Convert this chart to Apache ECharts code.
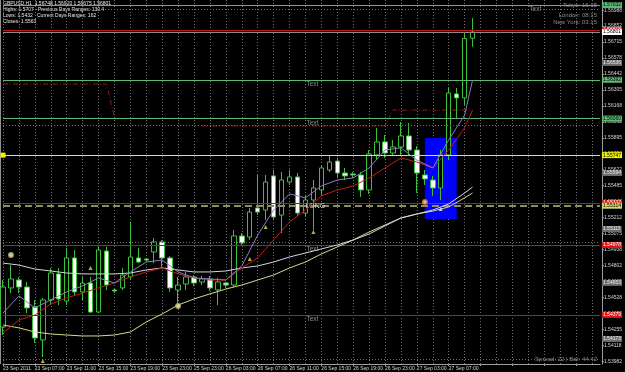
<!DOCTYPE html>
<html><head><meta charset="utf-8">
<script src="https://cdn.jsdelivr.net/npm/echarts@6/dist/echarts.min.js"></script>
<style>html,body{margin:0;padding:0;background:#000;}#c{width:625px;height:372px;}</style>
</head><body><div id="c"></div>
<script>
// ---- data ----
const tickLabels = ["23 Sep 2011","23 Sep 07:00","23 Sep 11:00","23 Sep 15:00","23 Sep 19:00","23 Sep 23:00","25 Sep 23:00","26 Sep 03:00","26 Sep 07:00","26 Sep 11:00","26 Sep 15:00","26 Sep 19:00","26 Sep 23:00","27 Sep 03:00","27 Sep 07:00"];
const futureSlots = 16;
// [open, close, low, high]
const candles = [
[1.54276,1.54618,1.54207,1.54678],[1.54610,1.54687,1.54567,1.54806],[1.54678,1.54618,1.54567,1.54704],[1.54618,1.54439,1.54395,1.54661],
[1.54447,1.54182,1.54139,1.54507],[1.54165,1.54507,1.54019,1.54525],[1.54507,1.54738,1.54464,1.54781],[1.54730,1.54516,1.54464,1.54781],
[1.54498,1.54867,1.54464,1.54953],[1.54867,1.54576,1.54550,1.54935],[1.54576,1.54652,1.54507,1.54704],[1.54652,1.54404,1.54395,1.54704],
[1.54404,1.54935,1.54395,1.54961],[1.54926,1.54635,1.54593,1.54961],[1.54593,1.54584,1.54567,1.54601],[1.54610,1.54721,1.54593,1.54781],
[1.54704,1.54875,1.54678,1.55175],[1.54867,1.54832,1.54823,1.54953],[1.54858,1.54849,1.54832,1.54867],[1.54918,1.55004,1.54823,1.55038],
[1.55004,1.54867,1.54789,1.55021],[1.54867,1.54610,1.54576,1.54884],[1.54593,1.54635,1.54481,1.54704],[1.54644,1.54704,1.54593,1.54747],
[1.54704,1.54652,1.54627,1.54721],[1.54661,1.54687,1.54635,1.54713],[1.54687,1.54610,1.54584,1.54713],[1.54593,1.54661,1.54464,1.54696],
[1.54652,1.54635,1.54610,1.54661],[1.54635,1.55055,1.54618,1.55106],[1.55055,1.54995,1.54970,1.55080],[1.55046,1.55260,1.55021,1.55295],
[1.55295,1.55260,1.55234,1.55577],[1.55277,1.55517,1.55192,1.55577],[1.55569,1.55217,1.55192,1.55620],[1.55234,1.55534,1.55080,1.55603],
[1.55517,1.55560,1.55491,1.55620],[1.55560,1.55251,1.55226,1.55594],[1.55251,1.55363,1.55226,1.55398],[1.55363,1.55466,1.55106,1.55534],
[1.55449,1.55637,1.55398,1.55662],[1.55620,1.55688,1.55603,1.55748],[1.55696,1.55594,1.55552,1.55723],[1.55594,1.55569,1.55534,1.55637],
[1.55586,1.55577,1.55552,1.55603],[1.55577,1.55449,1.55389,1.55603],[1.55449,1.55757,1.55415,1.55791],[1.55748,1.55860,1.55705,1.55980],
[1.55860,1.55765,1.55723,1.55919],[1.55765,1.55817,1.55740,1.55877],[1.55817,1.55911,1.55748,1.56031],[1.55911,1.55791,1.55740,1.56022],
[1.55791,1.55594,1.55423,1.55826],[1.55577,1.55543,1.55491,1.55620],[1.55534,1.55466,1.55398,1.55569],[1.55466,1.55748,1.55363,1.55791],
[1.55748,1.56279,1.55705,1.56322],[1.56271,1.56237,1.56065,1.56322],[1.56237,1.56745,1.56176,1.56790],[1.56748,1.56801,1.56675,1.56920]
];
// moving averages as [bar, price]
const maFast = [[0,1.54395],[2,1.54542],[4,1.54439],[6,1.54507],[8,1.54576],[10,1.54627],[12,1.54696],[14,1.54652],[16,1.54747],[18,1.54832],[20,1.54849],[22,1.54747],[24,1.54696],[26,1.54687],[28,1.54678],[30,1.54798],[32,1.55063],[34,1.55277],[36,1.55415],[38,1.55381],[40,1.55483],[42,1.55534],[44,1.55552],[46,1.55637],[48,1.55791],[50,1.55809],[52,1.55705],[54,1.55637],[56,1.55877],[58,1.56090],[59,1.56390]];
const maRed = [[0,1.54224],[2,1.54336],[4,1.54378],[6,1.54473],[8,1.54525],[10,1.54567],[12,1.54610],[14,1.54652],[16,1.54704],[18,1.54747],[20,1.54781],[22,1.54730],[24,1.54696],[26,1.54678],[28,1.54678],[30,1.54781],[32,1.54867],[34,1.55021],[36,1.55175],[38,1.55277],[40,1.55398],[42,1.55449],[44,1.55483],[46,1.55552],[48,1.55637],[50,1.55723],[52,1.55688],[54,1.55637],[56,1.55791],[58,1.55980],[59,1.56133]];
const maWhite = [[0,1.54823],[2,1.54806],[4,1.54772],[6,1.54755],[8,1.54738],[10,1.54730],[12,1.54730],[14,1.54730],[16,1.54738],[18,1.54764],[20,1.54781],[22,1.54764],[24,1.54747],[26,1.54747],[28,1.54755],[30,1.54781],[32,1.54798],[34,1.54832],[36,1.54875],[38,1.54909],[40,1.54944],[42,1.54978],[44,1.55021],[46,1.55072],[48,1.55141],[50,1.55209],[52,1.55243],[54,1.55277],[56,1.55329],[58,1.55423],[59,1.55474]];
const maYellow = [[0,1.54293],[2,1.54268],[4,1.54233],[6,1.54216],[8,1.54207],[10,1.54199],[12,1.54199],[14,1.54207],[16,1.54233],[18,1.54319],[20,1.54387],[22,1.54464],[24,1.54516],[26,1.54559],[28,1.54601],[30,1.54635],[32,1.54678],[34,1.54721],[36,1.54781],[38,1.54832],[40,1.54901],[42,1.54961],[44,1.55021],[46,1.55089],[48,1.55149],[50,1.55209],[52,1.55243],[54,1.55268],[56,1.55303],[58,1.55381],[59,1.55423]];
const prevDayLine = [[0,1.56356],[13,1.56356],[14,1.56073],[20,null],[25,1.55997],[48,1.55997],[49,1.56133],[59,1.56133]];
const priceTicks = [1.56988,1.56852,1.56715,1.56578,1.56442,1.56305,1.56168,1.56032,1.55895,1.55758,1.55622,1.55485,1.55348,1.55212,1.55075,1.54938,1.54802,1.54665,1.54528,1.54392,1.54255,1.54118,1.53982];
const greenLevels = [1.57032, 1.56392, 1.56060];
const redLevels = [1.56818, 1.55337, 1.54978, 1.54379];
const yellowLevel = 1.55747;
const longLevel = 1.55314;
const bidPrice = 1.56801;
const grayLevels = [1.56536, 1.55594, 1.55115, 1.54653, 1.54173];
const boxBars = [53, 57];
const boxPrices = [1.55894, 1.55201];
const textNotes = [[66,1.57032,'Text'],[38,1.56392,'Text'],[38,1.56060,'Text'],[38,1.54978,'Text'],[38,1.54379,'Text']];
const longNote = [38, 1.55314, 'LONG'];
const ringMarks = [[1,1.54892],[22,1.54456]];
const orangeMarks = [[53,1.55346]];
const yellowArrows = [[5,1.53984],[11,1.54781],[31,1.54858],[33,1.55132],[39,1.55089]];
const whiteArrows = [[55,1.55286]];
const headerLines = ["Highs: 1.5707","Previous Days Ranges: 130.4","Lows: 1.5432","Current Days Ranges: 162","Closes: 1.5563"];
const sessions = ["Tokyo: 16:15","London: 08:15","New York: 03:15"];
const statusText = "Spread: 22 | Bar: 44:42";

// ---- chart ----
const FONT = '"Liberation Sans", Arial, sans-serif';
const N = candles.length + futureSlots;
const cats = Array.from({length: N}, (_, i) => String(i));
const last = candles[candles.length - 1];
const fmt5 = v => Number(v).toFixed(5);

const lvl = (v, line, box, txt, extra) => Object.assign({
  yAxis: v,
  lineStyle: {color: line, width: 1, type: 'solid'},
  label: {backgroundColor: box, color: txt}
}, extra || {});

const levelData = [
  ...grayLevels.map(v => lvl(v, 'rgba(0,0,0,0)', '#6c6c6c', '#e8e8e8')),
  ...greenLevels.map(v => lvl(v, '#5cb870', '#5cb870', '#000')),
  ...redLevels.map(v => lvl(v, '#c01818', '#e01414', '#fff')),
  lvl(bidPrice, '#8a8a8a', '#ffffff', '#000'),
  lvl(yellowLevel, '#f2f200', '#f2f200', '#000', {symbol: ['rect', 'none'], symbolSize: [5, 5]}),
  Object.assign(lvl(longLevel, '#8e8e5a', '#d6d66a', '#000'), {lineStyle: {color: '#8e8e5a', width: 2, type: [7, 4]}})
];

const noteStyle = {show: true, position: 'insideTopLeft', distance: 1, color: '#8c8c8c', fontSize: 6.5, fontFamily: FONT};

const option = {
  animation: false,
  backgroundColor: '#000',
  grid: {left: 2, right: 22, top: 0, bottom: 8},
  xAxis: {
    type: 'category', data: cats, boundaryGap: false,
    axisLine: {show: true, lineStyle: {color: '#a0a0a0'}},
    axisTick: {show: true, interval: 3, length: 2, lineStyle: {color: '#a0a0a0'}},
    axisLabel: {interval: 3, align: 'left', margin: 2, color: '#d4d4d4', fontSize: 5, fontFamily: FONT,
      formatter: (v, i) => (i % 4 === 0 && tickLabels[i / 4]) ? tickLabels[i / 4] : ''},
    splitLine: {show: true, interval: 1, lineStyle: {color: '#707070', type: [1, 2], width: 1}}
  },
  yAxis: {
    type: 'value', position: 'right', min: 1.53959, max: 1.57075, offset: 2, scale: true,
    axisLine: {show: true, lineStyle: {color: '#a0a0a0'}},
    axisTick: {show: true, customValues: priceTicks, length: 2, lineStyle: {color: '#a0a0a0'}},
    axisLabel: {customValues: priceTicks, formatter: fmt5, color: '#d4d4d4', fontSize: 5, margin: 2, fontFamily: FONT},
    splitLine: {show: false}
  },
  graphic: [
    {type: 'line', shape: {x1: 0.5, y1: 0, x2: 0.5, y2: 364}, style: {stroke: '#909090', lineWidth: 1}},
    {type: 'text', left: 3, top: 1, style: {text: 'GBPUSD,H1  ' + [last[0], last[3], last[2], last[1]].map(fmt5).join(' '), fill: '#e8e8e8', font: '5px ' + FONT}},
    {type: 'text', left: 3, top: 7, style: {text: headerLines[0], fill: '#e8e8e8', font: '5px ' + FONT}},
    {type: 'text', left: 38, top: 7, style: {text: headerLines[1], fill: '#e8e8e8', font: '5px ' + FONT}},
    {type: 'text', left: 3, top: 13, style: {text: headerLines[2], fill: '#e8e8e8', font: '5px ' + FONT}},
    {type: 'text', left: 37, top: 13, style: {text: headerLines[3], fill: '#e8e8e8', font: '5px ' + FONT}},
    {type: 'text', left: 3, top: 19, style: {text: headerLines[4], fill: '#e8e8e8', font: '5px ' + FONT}},
    {type: 'text', right: 28, top: 2, style: {text: sessions[0], fill: '#8e8e8e', font: '6px ' + FONT}},
    {type: 'text', right: 28, top: 12, style: {text: sessions[1], fill: '#8e8e8e', font: '6px ' + FONT}},
    {type: 'text', right: 28, top: 19, style: {text: sessions[2], fill: '#8e8e8e', font: '6px ' + FONT}},
    {type: 'text', right: 28, top: 356, style: {text: statusText, fill: '#8e8e8e', font: '6px ' + FONT}}
  ],
  series: [
    {type: 'line', z: 1, data: [], silent: true,
      markLine: {silent: true, symbol: 'none', animation: false, label: {show: false},
        lineStyle: {color: '#707070', type: [1, 2], width: 1},
        data: priceTicks.map(v => ({yAxis: v}))}},
    {type: 'line', z: 2, data: [], silent: true,
      markArea: {silent: true, itemStyle: {color: '#0000ff', opacity: 1},
        data: [[{xAxis: String(boxBars[0]), yAxis: boxPrices[0]}, {xAxis: String(boxBars[1]), yAxis: boxPrices[1]}]]}},
    {type: 'line', z: 3, data: prevDayLine, showSymbol: false, connectNulls: false,
      lineStyle: {color: '#8e1c1c', width: 1, type: [5, 2, 1, 2]}},
    {type: 'candlestick', z: 4, data: candles, barWidth: 5,
      itemStyle: {color: '#000000', color0: '#ffffff', borderColor: '#3cc03c', borderColor0: '#3cc03c', borderWidth: 1}},
    {type: 'line', z: 5, data: maYellow, showSymbol: false, lineStyle: {color: '#d8d890', width: 1}},
    {type: 'line', z: 5, data: maWhite, showSymbol: false, lineStyle: {color: '#d4d4e0', width: 1}},
    {type: 'line', z: 5, data: maRed, showSymbol: false, lineStyle: {color: '#c41a1a', width: 1}},
    {type: 'line', z: 5, data: maFast, showSymbol: false, lineStyle: {color: '#8a7cc8', width: 1}},
    {type: 'line', z: 6, data: [], silent: true,
      markLine: {silent: true, symbol: 'none', precision: 5, animation: false,
        label: {show: true, position: 'end', distance: 2, formatter: p => fmt5(p.value), fontSize: 5, fontFamily: FONT, padding: [1, 1, 0, 1]},
        data: levelData},
      markPoint: {silent: true, symbol: 'circle', symbolSize: 0, animation: false,
        data: textNotes.map(t => ({coord: [String(t[0]), t[1]], value: t[2], label: Object.assign({}, noteStyle, {formatter: t[2]})}))
          .concat([{coord: [String(longNote[0]), longNote[1]], value: longNote[2],
            label: {show: true, position: 'insideLeft', distance: 0, color: '#d8d8d8', fontSize: 7, fontFamily: FONT, formatter: longNote[2]}}])}},
    {type: 'scatter', z: 7, data: ringMarks, symbol: 'emptyCircle', symbolSize: 4, itemStyle: {color: '#c8c070', borderWidth: 1}},
    {type: 'scatter', z: 7, data: orangeMarks, symbol: 'emptyCircle', symbolSize: 4, itemStyle: {color: '#e08a20', borderWidth: 1}},
    {type: 'scatter', z: 7, data: yellowArrows, symbol: 'triangle', symbolSize: 4, itemStyle: {color: '#e6d84a'}},
    {type: 'scatter', z: 7, data: whiteArrows, symbol: 'triangle', symbolSize: 4, itemStyle: {color: '#f0f0f0'}}
  ]
};
const chart = echarts.init(document.getElementById('c'), null, {renderer: 'canvas'});
chart.setOption(option);
</script></body></html>
